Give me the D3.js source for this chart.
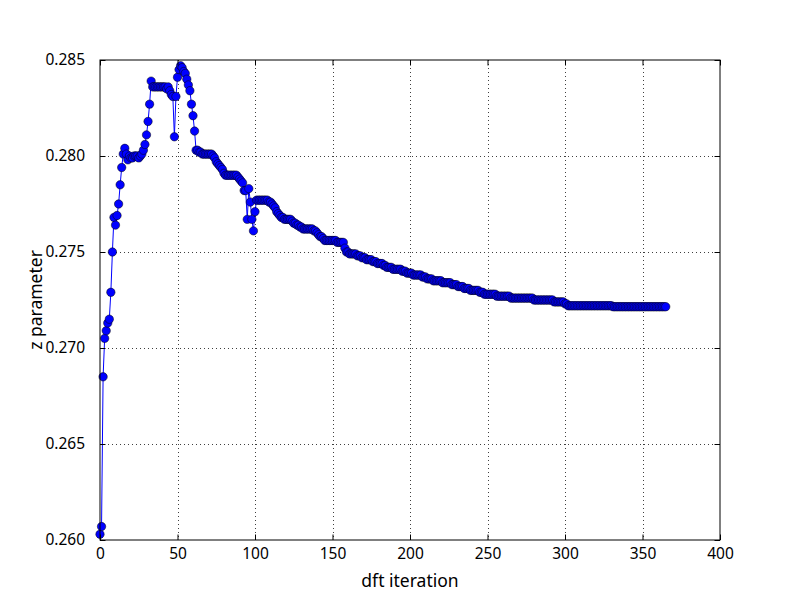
<!DOCTYPE html>
<html>
<head>
<meta charset="utf-8">
<script src="https://cdn.jsdelivr.net/npm/d3@7"></script>
<style>
  body { margin: 0; background: #fff; }
  svg { display: block; font-family: "Noto Sans", "Open Sans", sans-serif; }
</style>
</head>
<body>
<div id="wrapper"></div>
<script>
/* DATA */
// z parameter per dft iteration
const zValues = [
  0.2603, 0.2607, 0.2685, 0.2705, 0.2709, 0.2713, 0.2715, 0.2729, 0.2750, 0.2768,
  0.2764, 0.2769, 0.2775, 0.2785, 0.2794, 0.2801, 0.2804, 0.2801, 0.2798, 0.2800,
  0.2799, 0.2799, 0.2800, 0.2800, 0.2800, 0.2799, 0.2800, 0.2801, 0.2803, 0.2806,
  0.2811, 0.2818, 0.2827, 0.2839, 0.2836, 0.2836, 0.2836, 0.2836, 0.2836, 0.2836,
  0.2836, 0.2836, 0.2836, 0.2835, 0.2836, 0.2834, 0.2832, 0.2831, 0.2810, 0.2831,
  0.2841, 0.2845, 0.2847, 0.2846, 0.2844, 0.2843, 0.2840, 0.2837, 0.2834, 0.2827,
  0.2821, 0.2813, 0.2803, 0.2803, 0.2802, 0.2802, 0.2801, 0.2801, 0.2801, 0.2801,
  0.2801, 0.2801, 0.2801, 0.2800, 0.2799, 0.2797, 0.2796, 0.2795, 0.2794, 0.2793,
  0.2791, 0.2790, 0.2790, 0.2790, 0.2790, 0.2790, 0.2790, 0.2790, 0.2790, 0.2789,
  0.2788, 0.2787, 0.2786, 0.2782, 0.2782, 0.2767, 0.2783, 0.2776, 0.2767, 0.2761,
  0.2771, 0.2777, 0.2777, 0.2777, 0.2777, 0.2777, 0.2777, 0.2777, 0.2777, 0.2776,
  0.2776, 0.2775, 0.2774, 0.2773, 0.2771, 0.2770, 0.2769, 0.2768, 0.2768, 0.2767,
  0.2767, 0.2767, 0.2767, 0.2767, 0.2766, 0.2765, 0.2765, 0.2764, 0.2764, 0.2763,
  0.2763, 0.2762, 0.2762, 0.2762, 0.2762, 0.2762, 0.2762, 0.2762, 0.2761, 0.2761,
  0.2760, 0.2759, 0.2758, 0.2758, 0.2757, 0.2756, 0.2756, 0.2756, 0.2756, 0.2756,
  0.2756, 0.2756, 0.2756, 0.2755, 0.2755, 0.2755, 0.2755, 0.2755, 0.2752, 0.2750,
  0.2750, 0.2749, 0.2749, 0.2749, 0.2749, 0.2749, 0.2748, 0.2748, 0.2748, 0.2747,
  0.2747, 0.2747, 0.2746, 0.2746, 0.2746, 0.2746, 0.2745, 0.2745, 0.2745, 0.2744,
  0.2744, 0.2744, 0.2744, 0.2743, 0.2743, 0.2742, 0.2742, 0.2742, 0.2742, 0.2741,
  0.2741, 0.2741, 0.2741, 0.2741, 0.2741, 0.2740, 0.2740, 0.2740, 0.2739, 0.2739,
  0.2739, 0.2739, 0.2738, 0.2738, 0.2738, 0.2738, 0.2738, 0.2738, 0.2737, 0.2737,
  0.2737, 0.2736, 0.2736, 0.2736, 0.2736, 0.2735, 0.2735, 0.2735, 0.2735, 0.2735,
  0.2735, 0.2734, 0.2734, 0.2734, 0.2734, 0.2734, 0.2734, 0.2733, 0.2733, 0.2733,
  0.2733, 0.2732, 0.2732, 0.2732, 0.2732, 0.2731, 0.2731, 0.2731, 0.2731, 0.2730,
  0.2730, 0.2730, 0.2730, 0.2730, 0.2730, 0.2729, 0.2729, 0.2729, 0.2728, 0.2728,
  0.2728, 0.2728, 0.2728, 0.2728, 0.2728, 0.2728, 0.2727, 0.2727, 0.2727, 0.2727,
  0.2727, 0.2727, 0.2727, 0.2727, 0.2727, 0.2726, 0.2726, 0.2726, 0.2726, 0.2726,
  0.2726, 0.2726, 0.2726, 0.2726, 0.2726, 0.2726, 0.2726, 0.2726, 0.2726, 0.2726,
  0.2725, 0.2725, 0.2725, 0.2725, 0.2725, 0.2725, 0.2725, 0.2725, 0.2725, 0.2725,
  0.2725, 0.2725, 0.2725, 0.2724, 0.2724, 0.2724, 0.2724, 0.2724, 0.2724, 0.2724,
  0.2723, 0.2723, 0.2722, 0.2722, 0.2722, 0.2722, 0.2722, 0.2722, 0.2722, 0.2722,
  0.2722, 0.2722, 0.2722, 0.2722, 0.2722, 0.2722, 0.2722, 0.2722, 0.2722, 0.2722,
  0.2722, 0.2722, 0.2722, 0.2722, 0.2722, 0.2722, 0.2722, 0.2722, 0.2722, 0.2722,
  0.2722, 0.27215, 0.27215, 0.27215, 0.27215, 0.27215, 0.27215, 0.27215, 0.27215, 0.27215,
  0.27215, 0.27215, 0.27215, 0.27215, 0.27215, 0.27215, 0.27215, 0.27215, 0.27215, 0.27215,
  0.27215, 0.27215, 0.27215, 0.27215, 0.27215, 0.27215, 0.27215, 0.27215, 0.27215, 0.27215,
  0.27215, 0.27215, 0.27215, 0.27215, 0.27215, 0.27215
];
const iterations = zValues.map((_, i) => i);

const xTicks = [0, 50, 100, 150, 200, 250, 300, 350, 400];
const yTicks = [0.260, 0.265, 0.270, 0.275, 0.280, 0.285];
const xLabel = 'dft iteration';
const yLabel = 'z parameter';

const dataset = iterations.map((it, i) => ({ it, z: zValues[i] }));
const xAccessor = d => d.it;
const yAccessor = d => d.z;

/* CHART DIMENSIONS */
const dimensions = {
  width: 800,
  height: 600,
  margin: { top: 60, right: 80, bottom: 60, left: 100 },
};
dimensions.boundedWidth =
  dimensions.width - (dimensions.margin.left + dimensions.margin.right);
dimensions.boundedHeight =
  dimensions.height - (dimensions.margin.top + dimensions.margin.bottom);

/* SCALES */
const xScale = d3.scaleLinear()
  .domain([0, 400])
  .range([0, dimensions.boundedWidth]);

const yScale = d3.scaleLinear()
  .domain([0.260, 0.285])
  .range([dimensions.boundedHeight, 0]);

/* DRAW */
const wrapper = d3.select('#wrapper')
  .append('svg')
  .attr('width', dimensions.width)
  .attr('height', dimensions.height);

const bounds = wrapper.append('g')
  .attr('transform', `translate(${dimensions.margin.left},${dimensions.margin.top})`);

// grid (dotted, like matplotlib classic)
const grid = bounds.append('g')
  .attr('stroke', '#000')
  .attr('stroke-width', 1)
  .attr('stroke-dasharray', '1,3')
  .attr('shape-rendering', 'crispEdges')
  .attr('opacity', 0.75);

grid.selectAll('line.vx')
  .data(xTicks.slice(1, -1))
  .join('line')
  .attr('class', 'vx')
  .attr('x1', d => Math.round(xScale(d)) + 0.5)
  .attr('x2', d => Math.round(xScale(d)) + 0.5)
  .attr('y1', 0)
  .attr('y2', dimensions.boundedHeight);

grid.selectAll('line.hy')
  .data(yTicks.slice(1, -1))
  .join('line')
  .attr('class', 'hy')
  .attr('x1', 0)
  .attr('x2', dimensions.boundedWidth)
  .attr('y1', d => Math.round(yScale(d)) + 0.5)
  .attr('y2', d => Math.round(yScale(d)) + 0.5);

const plot = bounds.append('g');

const lineGenerator = d3.line()
  .x(d => xScale(xAccessor(d)))
  .y(d => yScale(yAccessor(d)));

plot.append('path')
  .attr('d', lineGenerator(dataset))
  .attr('fill', 'none')
  .attr('stroke', '#0000ff')
  .attr('stroke-width', 1);

plot.append('g')
  .selectAll('circle')
  .data(dataset)
  .join('circle')
  .attr('cx', d => xScale(xAccessor(d)))
  .attr('cy', d => yScale(yAccessor(d)))
  .attr('r', 4.2)
  .attr('fill', '#0000ff')
  .attr('stroke', '#000')
  .attr('stroke-width', 0.5);

/* PERIPHERALS */
const tickFont = 15.5;

const xAxis = bounds.append('g')
  .attr('transform', `translate(0,${dimensions.boundedHeight})`)
  .call(d3.axisBottom(xScale).tickValues(xTicks).tickSize(-5.5).tickPadding(8).tickFormat(d3.format('d')));

const xAxisTop = bounds.append('g')
  .call(d3.axisTop(xScale).tickValues(xTicks).tickSize(-5.5).tickFormat(''));

const yAxis = bounds.append('g')
  .call(d3.axisLeft(yScale).tickValues(yTicks).tickSize(-5.5).tickPadding(15).tickFormat(d3.format('.3f')));

const yAxisRight = bounds.append('g')
  .attr('transform', `translate(${dimensions.boundedWidth},0)`)
  .call(d3.axisRight(yScale).tickValues(yTicks).tickSize(-5.5).tickFormat(''));

[xAxis, xAxisTop, yAxis, yAxisRight].forEach(g => {
  g.select('.domain').remove();
  g.selectAll('.tick line').attr('stroke', '#000').attr('stroke-width', 1);
  g.selectAll('.tick text')
    .attr('fill', '#000')
    .attr('font-size', tickFont)
    .attr('font-family', '"Noto Sans", "Open Sans", sans-serif');
});

// frame
bounds.append('rect')
  .attr('x', 0)
  .attr('y', 0)
  .attr('width', dimensions.boundedWidth)
  .attr('height', dimensions.boundedHeight)
  .attr('fill', 'none')
  .attr('stroke', '#000')
  .attr('stroke-width', 1);

bounds.append('text')
  .text(xLabel)
  .attr('x', dimensions.boundedWidth / 2)
  .attr('y', dimensions.boundedHeight + 47)
  .attr('text-anchor', 'middle')
  .attr('font-size', 17.5)
  .attr('fill', '#000');

bounds.append('text')
  .text(yLabel)
  .attr('text-anchor', 'middle')
  .attr('font-size', 17.5)
  .attr('fill', '#000')
  .attr('transform', `translate(${-dimensions.margin.left + 42},${dimensions.boundedHeight / 2}) rotate(-90)`);
</script>
</body>
</html>
